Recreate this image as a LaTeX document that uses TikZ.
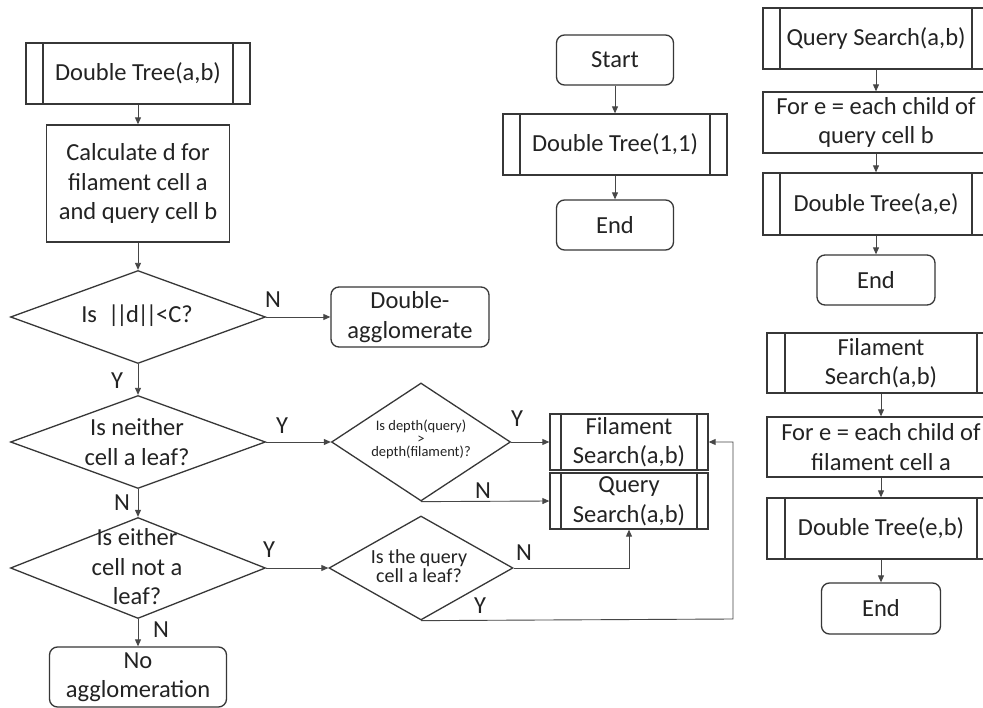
\documentclass[tikz,border=0pt]{standalone}
\usepackage{fontspec}
\setmainfont{Carlito}
\usetikzlibrary{shapes.geometric, arrows.meta}
\definecolor{linec}{RGB}{55,55,55}
\definecolor{connc}{RGB}{70,70,70}
\definecolor{txtc}{RGB}{35,35,35}
\begin{document}
\begin{tikzpicture}[x=1pt,y=-1pt,
  every node/.style={font=\fontsize{24.5}{29.5}\selectfont, text=txtc},
  box/.style={draw=linec, line width=1.3pt, inner sep=0pt, align=center},
  proc/.style={box, path picture={
      \draw[linec, line width=1.3pt]
        ([xshift=#1]path picture bounding box.north west) -- ([xshift=#1]path picture bounding box.south west)
        ([xshift=-#1]path picture bounding box.north east) -- ([xshift=-#1]path picture bounding box.south east);}},
  proc/.default=17pt,
  term/.style={box, rounded corners=8pt},
  dia/.style={draw=linec, line width=1.3pt, diamond, inner sep=0pt},
  dtext/.style={align=center, inner sep=0pt},
  lab/.style={inner sep=0pt},
  conn/.style={draw=connc, line width=0.9pt, -{Triangle[length=7pt,width=6pt]}}
]
\useasboundingbox (0,0) rectangle (983,708);
\fill[white] (0,0) rectangle (983,708);
\clip (0,0) rectangle (983,708);

% ---- left chart ----
\node[proc, minimum width=224pt, minimum height=61pt] (dt) at (138,73.5) {Double Tree(a,b)};
\node[box, minimum width=183pt, minimum height=117pt] (calc) at (138,183.5) {Calculate d for\\filament cell a\\and query cell b};

\node[dia, minimum width=255pt, minimum height=93pt] (d1) at (138,317) {};
\node[dtext] (d1t) at (137,316) {Is\ \ |\kern-3pt|\kern-1.5pt d\kern-1.5pt|\kern-3pt|\kern-1pt<C?};
\node[term, minimum width=158pt, minimum height=60pt] (dag) at (410,317) {Double-\\agglomerate};

\node[dia, minimum width=255pt, minimum height=93pt] (d2) at (138,442) {};
\node[dtext] (d2t) at (137,442) {Is neither\\cell a leaf?};

\node[dia, minimum width=179pt, minimum height=118pt] (d3) at (421,442) {};
\node[dtext, font=\fontsize{14.5}{13}\selectfont] (d3t) at (421,439) {Is depth(query)\\>\\depth(filament)?};

\node[proc=11pt, minimum width=158pt, minimum height=56pt] (fs) at (629,442) {Filament\\Search(a,b)};
\node[proc=11pt, minimum width=158pt, minimum height=56pt] (qs) at (629,501) {Query\\Search(a,b)};

\node[dia, minimum width=255pt, minimum height=101pt] (d4) at (138,568) {};
\node[dtext] (d4t) at (137,567) {Is either\\cell not a\\leaf?};

\node[dia, minimum width=184pt, minimum height=104pt] (d5) at (421,568) {};
\node[dtext, font=\fontsize{20}{19.5}\selectfont] (d5t) at (419,566) {Is the query\\cell a leaf?};

\node[term, minimum width=177pt, minimum height=60pt] (noag) at (138,677) {No\\agglomeration};

\coordinate (loop) at (733,619);

% ---- middle chart ----
\node[term, minimum width=117pt, minimum height=50pt] (start) at (615,60) {Start};
\node[proc, minimum width=224pt, minimum height=61pt] (dt11) at (615,144.5) {Double Tree(1,1)};
\node[term, minimum width=117pt, minimum height=50pt] (end1) at (615,225) {End};

% ---- right chart: query search ----
\node[proc, minimum width=226pt, minimum height=61pt] (qsr) at (876,38.5) {Query Search(a,b)};
\node[box, minimum width=226pt, minimum height=61pt] (fore1) at (876,122.5) {For e = each child of\\query cell b};
\node[proc, minimum width=226pt, minimum height=62pt] (dtae) at (876,204) {Double Tree(a,e)};
\node[term, minimum width=118pt, minimum height=50pt] (end2) at (876,280) {End};

% ---- right chart: filament search ----
\node[proc=18pt, minimum width=228pt, minimum height=60pt] (fsr) at (881,363) {Filament\\Search(a,b)};
\node[box, minimum width=228pt, minimum height=60pt] (fore2) at (881,447) {For e = each child of\\filament cell a};
\node[proc=18pt, minimum width=228pt, minimum height=61pt] (dteb) at (881,528.5) {Double Tree(e,b)};
\node[term, minimum width=119pt, minimum height=51pt] (end3) at (881,608.5) {End};

% ---- connectors ----
\draw[conn] (dt) -- (calc);
\draw[conn] (calc) -- (d1);
\draw[conn] (d1.east) -- (dag.west);
\draw[conn] (d1.south) -- (d2.north);
\draw[conn] (d2.east) -- (d3.west);
\draw[conn] (d3.east) -- (fs.west);
\draw[conn] (d3.south) -- (qs.west);
\draw[conn] (d2.south) -- (d4.north);
\draw[conn] (d4.east) -- (d5.west);
\draw[conn] (d5.east) -| (qs.south);
\draw[conn] (d5.south) -- (loop) |- (fs.east);
\draw[conn] (d4.south) -- (noag.north);

\draw[conn] (start) -- (dt11);
\draw[conn] (dt11) -- (end1);

\draw[conn] (qsr) -- (fore1);
\draw[conn] (fore1) -- (dtae);
\draw[conn] (dtae) -- (end2);

\draw[conn] (fsr) -- (fore2);
\draw[conn] (fore2) -- (dteb);
\draw[conn] (dteb) -- (end3);

% ---- branch labels ----
\node[lab] (l1) at (273,300) {N};
\node[lab] (l2) at (117,381) {Y};
\node[lab] (l3) at (282,426) {Y};
\node[lab] (l4) at (517,419) {Y};
\node[lab] (l5) at (483,491) {N};
\node[lab] (l6) at (122,503) {N};
\node[lab] (l7) at (269,550) {Y};
\node[lab] (l8) at (524,553) {N};
\node[lab] (l9) at (480,606) {Y};
\node[lab] (l10) at (161,630) {N};
\end{tikzpicture}
\end{document}
